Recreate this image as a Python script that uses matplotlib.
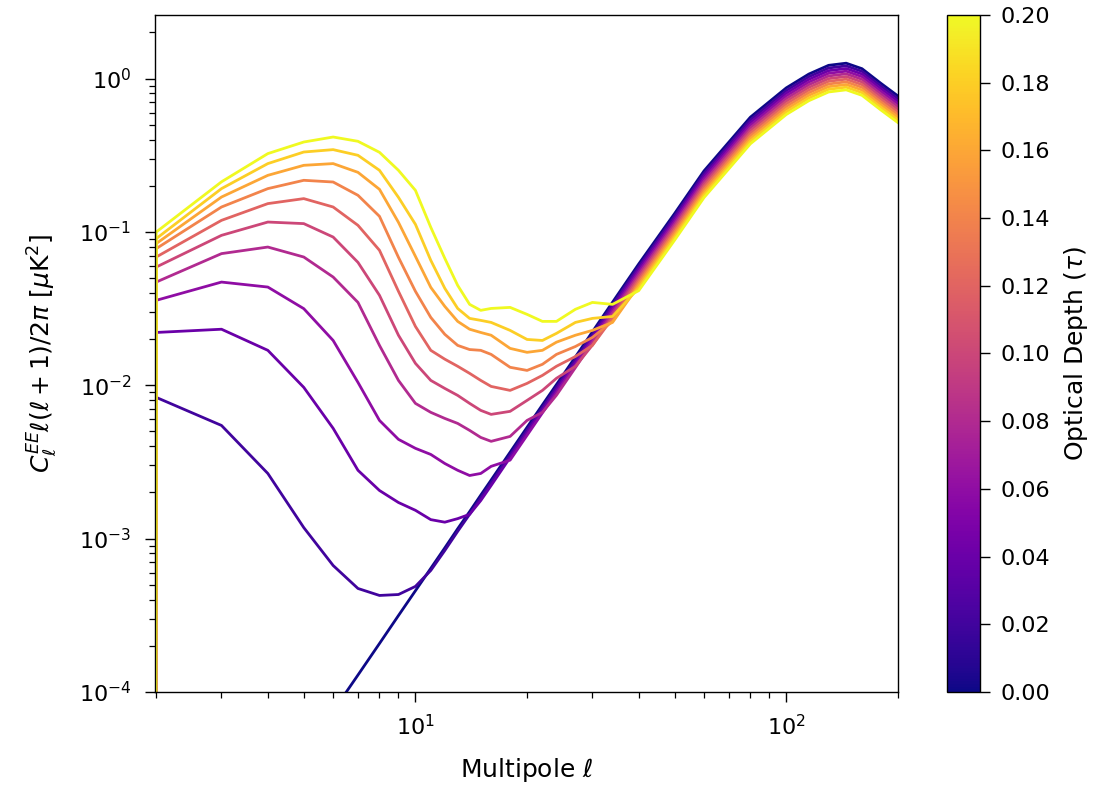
import numpy as np
import matplotlib
matplotlib.use('Agg')
import matplotlib.pyplot as plt
from matplotlib import cm
from matplotlib.colors import Normalize

plt.rcParams['font.size'] = 16
plt.rcParams['axes.linewidth'] = 1.0

# multipoles at which the spectra are tabulated
ell = [1, 2, 3, 4, 5, 6, 7, 8, 9, 10, 11, 12, 13, 14, 15, 16, 18, 20, 22, 24,
       27, 30, 34, 40, 50, 60, 80, 100, 115, 130, 145, 160, 180, 200]

# optical depths of the runs
taus = [0.00, 0.02, 0.04, 0.06, 0.08, 0.10, 0.12, 0.14, 0.16, 0.18, 0.20]

# EE spectra l(l+1)C_l/2pi in uK^2, one list per optical depth
ee_tau000 = [0, 1.53e-6, 6.4e-6, 1.78e-5, 3.94e-5, 7.5e-5, 1.29e-4, 2.07e-4, 3.15e-4, 4.57e-4,
             6.4e-4, 8.7e-4, 1.16e-3, 1.50e-3, 1.92e-3, 2.41e-3, 3.66e-3, 5.32e-3, 7.45e-3, 0.0101,
             0.0153, 0.0223, 0.0348, 0.0618, 0.132, 0.25, 0.56, 0.87, 1.07, 1.22, 1.26, 1.16, 0.93, 0.77]
ee_tau002 = [0, 8.34e-3, 5.47e-3, 2.66e-3, 1.18e-3, 6.68e-4, 4.73e-4, 4.26e-4, 4.32e-4, 4.88e-4,
             6.20e-4, 8.36e-4, 1.115e-3, 1.441e-3, 1.845e-3, 2.316e-3, 3.517e-3, 5.111e-3, 7.158e-3, 9.704e-3,
             0.0147, 0.02143, 0.03344, 0.05938, 0.1268, 0.2402, 0.5380, 0.8359, 1.0281, 1.1722, 1.2106, 1.1145, 0.8935, 0.7398]
ee_tau004 = [0, 0.0221, 0.0232, 0.0169, 9.69e-3, 5.24e-3, 2.79e-3, 2.06e-3, 1.72e-3, 1.53e-3,
             1.33e-3, 1.28e-3, 1.35e-3, 1.44e-3, 1.77e-3, 2.22e-3, 3.38e-3, 4.91e-3, 6.88e-3, 9.32e-3,
             0.01412, 0.02059, 0.03212, 0.05705, 0.1218, 0.2308, 0.5169, 0.8031, 0.9877, 1.1262, 1.1631, 1.0708, 0.8585, 0.7108]
ee_tau006 = [0, 0.0358, 0.0471, 0.0437, 0.0316, 0.0196, 0.01044, 5.90e-3, 4.44e-3, 3.88e-3,
             3.54e-3, 3.09e-3, 2.79e-3, 2.58e-3, 2.66e-3, 2.96e-3, 3.25e-3, 4.72e-3, 6.61e-3, 8.96e-3,
             0.01357, 0.01978, 0.03086, 0.05481, 0.1171, 0.2217, 0.4967, 0.7716, 0.9490, 1.0820, 1.1175, 1.0288, 0.8248, 0.6829]
ee_tau008 = [0, 0.0471, 0.0722, 0.0797, 0.0686, 0.0508, 0.0347, 0.0182, 0.01076, 7.62e-3,
             6.66e-3, 6.08e-3, 5.64e-3, 5.08e-3, 4.57e-3, 4.31e-3, 4.64e-3, 5.90e-3, 6.66e-3, 8.61e-3,
             0.01304, 0.0190, 0.02965, 0.0527, 0.1125, 0.2130, 0.4772, 0.7413, 0.9117, 1.0396, 1.0736, 0.9884, 0.7925, 0.6561]
ee_tau010 = [0, 0.0590, 0.0950, 0.1160, 0.1133, 0.0926, 0.0633, 0.0386, 0.0212, 0.0139,
             0.01076, 9.54e-3, 8.59e-3, 7.62e-3, 6.86e-3, 6.46e-3, 6.76e-3, 7.97e-3, 9.26e-3, 0.0111,
             0.0133, 0.01826, 0.02849, 0.0506, 0.1081, 0.2047, 0.4585, 0.7123, 0.8760, 0.9988, 1.0316, 0.9497, 0.7614, 0.6304]
ee_tau012 = [0, 0.0686, 0.1190, 0.1530, 0.1649, 0.1454, 0.1104, 0.0759, 0.0410, 0.0242,
             0.0169, 0.0148, 0.0133, 0.01196, 0.01076, 9.83e-3, 9.26e-3, 0.01029, 0.0116, 0.0133,
             0.0154, 0.0182, 0.0274, 0.0486, 0.1038, 0.1967, 0.4405, 0.6843, 0.8417, 0.9597, 0.9911, 0.9125, 0.7315, 0.6057]
ee_tau014 = [0, 0.0778, 0.1454, 0.1916, 0.2171, 0.2116, 0.1733, 0.1264, 0.0683, 0.0410,
             0.0277, 0.0215, 0.0182, 0.0171, 0.0169, 0.0159, 0.0131, 0.0125, 0.0137, 0.0159,
             0.0179, 0.0205, 0.0261, 0.0467, 0.0998, 0.1890, 0.4232, 0.6575, 0.8087, 0.9221, 0.9523, 0.8767, 0.7029, 0.5820]
ee_tau016 = [0, 0.0839, 0.1689, 0.2339, 0.2719, 0.2790, 0.2447, 0.1896, 0.1155, 0.0693,
             0.0435, 0.0327, 0.0261, 0.0232, 0.0221, 0.0212, 0.0174, 0.0164, 0.0169, 0.0191,
             0.0212, 0.0228, 0.0257, 0.0449, 0.0958, 0.1815, 0.4066, 0.6317, 0.7769, 0.8858, 0.9149, 0.8423, 0.6753, 0.5591]
ee_tau018 = [0, 0.0904, 0.1916, 0.2790, 0.3320, 0.3441, 0.3160, 0.2522, 0.1681, 0.1121,
             0.0653, 0.0429, 0.0317, 0.0273, 0.0265, 0.0257, 0.0228, 0.0199, 0.0196, 0.0218,
             0.0257, 0.0273, 0.0281, 0.0431, 0.0921, 0.1744, 0.3907, 0.6070, 0.7465, 0.8512, 0.8791, 0.8093, 0.6489, 0.5372]
ee_tau020 = [0, 0.0998, 0.2122, 0.3242, 0.3858, 0.4159, 0.3899, 0.3305, 0.2522, 0.1867,
             0.1072, 0.0673, 0.0448, 0.0337, 0.0308, 0.0317, 0.0322, 0.0290, 0.0261, 0.0261,
             0.0313, 0.0347, 0.0337, 0.0414, 0.0885, 0.1676, 0.3754, 0.5832, 0.7172, 0.8178, 0.8446, 0.7775, 0.6234, 0.5161]

spectra = [ee_tau000, ee_tau002, ee_tau004, ee_tau006, ee_tau008, ee_tau010,
           ee_tau012, ee_tau014, ee_tau016, ee_tau018, ee_tau020]

cmap = cm.plasma
norm = Normalize(vmin=0.0, vmax=0.2)

fig = plt.figure(figsize=(11.03, 7.91), dpi=100)
ax = fig.add_axes([0.1405, 0.1252, 0.6736, 0.8559])
cax = fig.add_axes([0.8586, 0.1252, 0.0299, 0.8559])

# one curve per optical depth, coloured by tau
for tau, cl in zip(taus, spectra):
    ax.loglog(ell, cl, color=cmap(norm(tau)), lw=2.0)

ax.set_xlim(1.985, 200)
ax.set_ylim(1e-4, 2.6)
ax.set_xlabel(r'Multipole $\ell$', fontsize=18, labelpad=12)
ax.set_ylabel(r'$C_\ell^{EE}\ell(\ell+1)/2\pi\ [\mu{\rm K}^2]$', fontsize=18, labelpad=14)
ax.tick_params(which='major', length=7, width=1.0)
ax.tick_params(which='minor', length=4, width=0.9)
ax.tick_params(axis='y', which='major', pad=10)
ax.tick_params(axis='x', which='major', pad=9)

sm = cm.ScalarMappable(norm=norm, cmap=cmap)
sm.set_array([])
cb = fig.colorbar(sm, cax=cax, ticks=np.arange(0, 0.201, 0.02), format='%.2f')
cb.ax.tick_params(length=7, width=1.0, pad=8)
cb.set_label(r'Optical Depth ($\tau$)', fontsize=18, labelpad=8)

plt.savefig('out.png', dpi=100)
